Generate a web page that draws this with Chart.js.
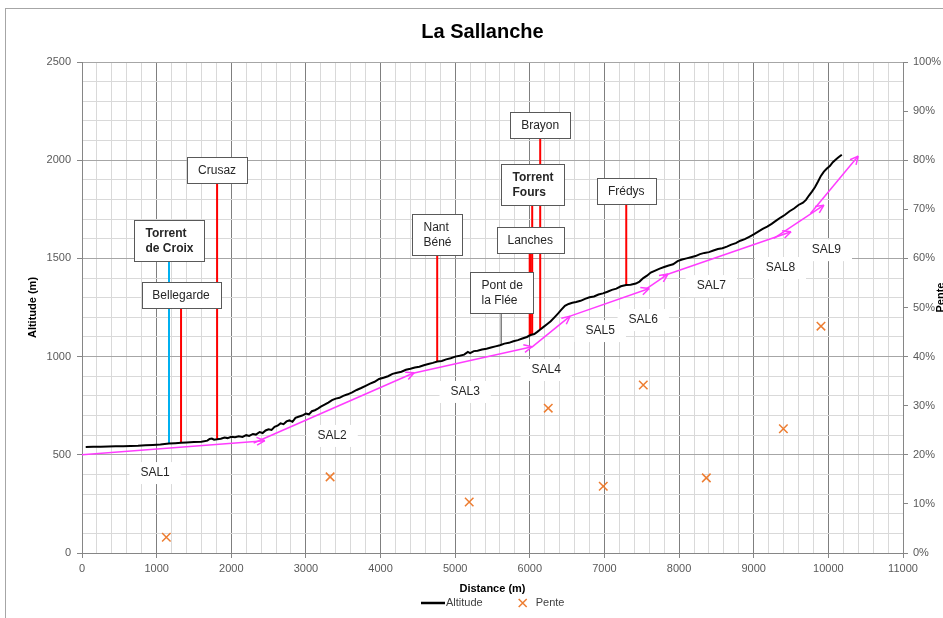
<!DOCTYPE html>
<html>
<head>
<meta charset="utf-8">
<title>La Sallanche</title>
<script src="https://cdn.jsdelivr.net/npm/chart.js@4.4.1/dist/chart.umd.min.js"></script>
<style>
  html, body { margin: 0; padding: 0; background: #fff; }
  .chart-wrapper { position: relative; width: 943px; height: 618px; }
</style>
</head>
<body>
<div class="chart-wrapper"><canvas id="profileChart"></canvas></div>
<script>
const FONT = "'Liberation Sans', Arial, sans-serif";

// longitudinal profile (distance m, altitude m)
const profileDistance = [
  50, 150, 250, 350, 450, 550, 650, 750, 850, 950, 1050, 1166, 1250, 1327, 1400, 1500, 1600, 1680, 1710, 1740,
  1770, 1810, 1860, 1910, 1950, 2000, 2050, 2100, 2150, 2200, 2240, 2290, 2330, 2380, 2420, 2460, 2500, 2540, 2580, 2620,
  2660, 2700, 2740, 2780, 2820, 2860, 2900, 2950, 3000, 3040, 3080, 3120, 3160, 3200, 3250, 3300, 3350, 3400, 3450, 3500,
  3560, 3620, 3680, 3740, 3800, 3860, 3920, 3980, 4040, 4100, 4160, 4220, 4280, 4340, 4400, 4460, 4520, 4580, 4640, 4700,
  4760, 4820, 4880, 4940, 5000, 5060, 5120, 5170, 5200, 5250, 5300, 5360, 5420, 5480, 5540, 5600, 5660, 5720, 5780, 5840,
  5900, 5960, 6010, 6060, 6100, 6140, 6180, 6230, 6280, 6330, 6380, 6420, 6470, 6520, 6570, 6620, 6680, 6740, 6800, 6860,
  6920, 6980, 7040, 7100, 7160, 7220, 7290, 7350, 7420, 7470, 7520, 7570, 7620, 7680, 7740, 7800, 7860, 7920, 7980, 8040,
  8100, 8160, 8220, 8280, 8340, 8400, 8460, 8520, 8580, 8640, 8700, 8760, 8820, 8880, 8940, 9000, 9060, 9120, 9180, 9240,
  9300, 9360, 9420, 9480, 9540, 9600, 9660, 9700, 9740, 9780, 9820, 9860, 9900, 9940, 9980, 10020, 10060, 10100, 10140, 10180
];
const profileAltitude = [
  540, 541, 541, 542, 543, 544, 545, 546, 548, 550, 552, 557, 559, 561, 563, 565, 567, 572, 581, 583,
  577, 579, 582, 588, 585, 592, 589, 594, 591, 600, 596, 606, 603, 616, 611, 624, 630, 627, 642, 648,
  660, 656, 670, 675, 668, 688, 694, 700, 710, 706, 722, 727, 735, 745, 755, 766, 778, 786, 790, 800,
  808, 818, 830, 840, 851, 862, 872, 886, 892, 900, 912, 918, 923, 933, 938, 944, 948, 956, 962, 968,
  975, 978, 986, 992, 1000, 1004, 1010, 1024, 1018, 1028, 1030, 1036, 1040, 1046, 1052, 1058, 1066, 1070, 1078, 1084,
  1092, 1100, 1110, 1115, 1126, 1138, 1150, 1165, 1180, 1200, 1220, 1238, 1258, 1268, 1274, 1278, 1284, 1294, 1302, 1306,
  1316, 1322, 1330, 1340, 1346, 1358, 1364, 1366, 1372, 1382, 1400, 1412, 1428, 1438, 1448, 1456, 1464, 1470, 1486, 1494,
  1500, 1506, 1512, 1522, 1528, 1532, 1540, 1548, 1552, 1560, 1570, 1578, 1590, 1598, 1610, 1622, 1636, 1650, 1662, 1676,
  1692, 1708, 1722, 1740, 1754, 1772, 1784, 1798, 1820, 1840, 1862, 1890, 1920, 1942, 1958, 1970, 1990, 2004, 2016, 2028
];

// slope per section (%)
const penteDistance = [1130, 3324, 5188, 6247, 6984, 7520, 8365, 9397, 9901];
const penteValue = [3.2, 15.5, 10.4, 29.5, 13.6, 34.2, 15.3, 25.3, 46.2];

// fitted sections SAL1..SAL9
const sectionNames = ['SAL1', 'SAL2', 'SAL3', 'SAL4', 'SAL5', 'SAL6', 'SAL7', 'SAL8', 'SAL9'];
const sectionStartX = [0, 2300, 4420, 6028, 6540, 7560, 7780, 9270, 9760];
const sectionStartY = [500, 560, 914, 1048, 1206, 1345, 1410, 1602, 1729];
const sectionEndX = [2450, 4450, 6030, 6540, 7600, 7850, 9500, 9940, 10400];
const sectionEndY = [572, 918, 1050, 1206, 1347, 1420, 1636, 1771, 2021];
const sectionLabelX = [979, 3351, 5134, 6220, 6944, 7520, 8432, 9357, 9973];
const sectionLabelY = [407, 596, 820, 932, 1130, 1186, 1359, 1451, 1542];

// tributaries and points of interest
const markerNames = ['Torrent de Croix', 'Bellegarde', 'Crusaz', 'Nant Béné', 'Pont de la Flée', 'Lanches', 'Torrent Fours', 'Brayon', 'Frédys'];
const markerDistance = [1166, 1327, 1810, 4759, 5617, 6005, 6032, 6139, 7292];
const markerFoot = [557, 561, 579, 975, 1062, 1108, 1110, 1136, 1364];
const markerTop = [1487, 1247, 1883, 1517, 1222, 1527, 1771, 2112, 1777];

const markerStyle = {
  'Torrent de Croix': { color: '#00b0f0', width: 2, bold: true, lines: ['Torrent', 'de Croix'] },
  'Bellegarde': { color: '#ff0000', width: 2, lines: ['Bellegarde'] },
  'Crusaz': { color: '#ff0000', width: 2, lines: ['Crusaz'] },
  'Nant Béné': { color: '#ff0000', width: 2, lines: ['Nant', 'Béné'] },
  'Pont de la Flée': { color: '#7f7f7f', width: 1.5, lines: ['Pont de', 'la Flée'] },
  'Lanches': { color: '#ff0000', width: 3, lines: ['Lanches'] },
  'Torrent Fours': { color: '#ff0000', width: 2, bold: true, lines: ['Torrent', 'Fours'] },
  'Brayon': { color: '#ff0000', width: 2, lines: ['Brayon'] },
  'Frédys': { color: '#ff0000', width: 2, lines: ['Frédys'] },
};

const PINK = '#ff3cff';
const ORANGE = '#ed7d31';

function buildDatasets() {
  const datasets = [
    {
      label: 'Altitude',
      kind: 'profile',
      data: profileDistance.map((d, i) => ({ x: d, y: profileAltitude[i] })),
      showLine: true,
      borderColor: '#000',
      borderWidth: 2,
      pointRadius: 0,
      yAxisID: 'y',
    },
    {
      label: 'Pente',
      kind: 'pente',
      data: penteDistance.map((d, i) => ({ x: d, y: penteValue[i] })),
      showLine: false,
      pointStyle: 'crossRot',
      pointRadius: 6,
      borderColor: ORANGE,
      backgroundColor: ORANGE,
      borderWidth: 1.5,
      yAxisID: 'y2',
    },
  ];

  sectionNames.forEach((name, i) => {
    datasets.push({
      label: name,
      kind: 'section',
      data: [
        { x: sectionStartX[i], y: sectionStartY[i] },
        { x: sectionEndX[i], y: sectionEndY[i] },
      ],
      showLine: true,
      borderColor: PINK,
      borderWidth: 1.5,
      pointRadius: 0,
      yAxisID: 'y',
    });
  });

  markerNames.forEach((name, i) => {
    const st = markerStyle[name];
    datasets.push({
      label: name,
      kind: 'marker',
      data: [
        { x: markerDistance[i], y: markerFoot[i] },
        { x: markerDistance[i], y: markerTop[i] },
      ],
      showLine: true,
      borderColor: st.color,
      borderWidth: st.width,
      pointRadius: 0,
      yAxisID: 'y',
      clip: false,
    });
  });

  return datasets;
}

const framePlugin = {
  id: 'frame',
  beforeDraw(chart) {
    const { ctx, width, height } = chart;
    ctx.save();
    ctx.fillStyle = '#fff';
    ctx.fillRect(0, 0, width, height);
    ctx.strokeStyle = '#a6a6a6';
    ctx.lineWidth = 1;
    ctx.strokeRect(5.5, 8.5, width + 20, height + 20);
    ctx.restore();
  },
};

const sectionLabelPlugin = {
  id: 'sectionLabels',
  beforeDatasetsDraw(chart) {
    const { ctx, scales: { x, y } } = chart;
    ctx.save();
    ctx.font = `12px ${FONT}`;
    ctx.textAlign = 'center';
    ctx.textBaseline = 'middle';
    sectionNames.forEach((name, i) => {
      const px = x.getPixelForValue(sectionLabelX[i]);
      const py = y.getPixelForValue(sectionLabelY[i]);
      const w = ctx.measureText(name).width + 22;
      ctx.fillStyle = '#fff';
      ctx.fillRect(px - w / 2, py - 11, w, 22);
      ctx.fillStyle = '#262626';
      ctx.fillText(name, px, py);
    });
    ctx.restore();
  },
};

const overlayPlugin = {
  id: 'overlay',
  afterDatasetsDraw(chart) {
    const { ctx } = chart;
    ctx.save();

    // arrow heads at the end of every section
    chart.data.datasets.forEach((ds, i) => {
      if (ds.kind !== 'section') return;
      const [a, b] = chart.getDatasetMeta(i).data;
      const ang = Math.atan2(b.y - a.y, b.x - a.x);
      ctx.strokeStyle = PINK;
      ctx.lineWidth = 1.5;
      ctx.beginPath();
      [0.45, -0.45].forEach(off => {
        ctx.moveTo(b.x, b.y);
        ctx.lineTo(b.x - 9 * Math.cos(ang + off), b.y - 9 * Math.sin(ang + off));
      });
      ctx.stroke();
    });

    // callout boxes at the top of each marker line
    chart.data.datasets.forEach((ds, i) => {
      if (ds.kind !== 'marker') return;
      const st = markerStyle[ds.label];
      const top = chart.getDatasetMeta(i).data[1];
      ctx.font = `${st.bold ? 'bold ' : ''}12px ${FONT}`;
      const tw = Math.max(...st.lines.map(l => ctx.measureText(l).width));
      const w = Math.round(tw + 22);
      const h = st.lines.length * 15 + 11;
      const left = Math.round(top.x - w / 2) + 0.5;
      const boxTop = Math.round(top.y - h) + 0.5;
      ctx.fillStyle = '#fff';
      ctx.fillRect(left, boxTop, w, h);
      ctx.strokeStyle = '#595959';
      ctx.lineWidth = 1;
      ctx.strokeRect(left, boxTop, w, h);
      ctx.fillStyle = '#262626';
      ctx.textAlign = st.lines.length > 1 ? 'left' : 'center';
      ctx.textBaseline = 'middle';
      st.lines.forEach((l, k) => {
        const ty = boxTop + 6 + 7.5 + k * 15;
        if (st.lines.length > 1) ctx.fillText(l, left + 11, ty);
        else ctx.fillText(l, top.x, ty);
      });
    });

    ctx.restore();
  },
  afterDraw(chart) {
    const { ctx, chartArea } = chart;
    ctx.save();

    // secondary axis title, partly cut off by the frame edge
    ctx.font = `bold 11px ${FONT}`;
    ctx.fillStyle = '#000';
    ctx.translate(935, (chartArea.top + chartArea.bottom) / 2 - 10);
    ctx.rotate(-Math.PI / 2);
    ctx.textAlign = 'center';
    ctx.textBaseline = 'top';
    ctx.fillText('Pente', 0, 0);
    ctx.restore();

    // legend
    ctx.save();
    ctx.font = `11px ${FONT}`;
    ctx.textBaseline = 'middle';
    ctx.textAlign = 'left';
    const ly = 603;
    const wAlt = ctx.measureText('Altitude').width;
    const wPen = ctx.measureText('Pente').width;
    const total = 24 + 1 + wAlt + 36 + 8 + 9 + wPen;
    let lx = Math.round((chartArea.left + chartArea.right) / 2 - total / 2);
    ctx.strokeStyle = '#000';
    ctx.lineWidth = 2.5;
    ctx.beginPath();
    ctx.moveTo(lx, ly);
    ctx.lineTo(lx + 24, ly);
    ctx.stroke();
    lx += 25;
    ctx.fillStyle = '#404040';
    ctx.fillText('Altitude', lx, ly);
    lx += wAlt + 36;
    ctx.strokeStyle = ORANGE;
    ctx.lineWidth = 1.5;
    ctx.beginPath();
    ctx.moveTo(lx, ly - 4); ctx.lineTo(lx + 8, ly + 4);
    ctx.moveTo(lx + 8, ly - 4); ctx.lineTo(lx, ly + 4);
    ctx.stroke();
    lx += 17;
    ctx.fillText('Pente', lx, ly);
    ctx.restore();
  },
};

const ctx = document.getElementById('profileChart').getContext('2d');

new Chart(ctx, {
  type: 'scatter',
  data: { datasets: buildDatasets() },
  options: {
    responsive: true,
    maintainAspectRatio: false,
    animation: false,
    font: { family: FONT },
    layout: { padding: { left: 22, right: 0, top: 0, bottom: 20 } },
    plugins: {
      legend: { display: false },
      tooltip: { enabled: false },
      title: {
        display: true,
        text: 'La Sallanche',
        color: '#000',
        font: { family: FONT, size: 20, weight: 'bold' },
        padding: { top: 20, bottom: 18 },
      },
    },
    scales: {
      x: {
        type: 'linear',
        min: 0,
        max: 11000,
        ticks: {
          stepSize: 200,
          autoSkip: false,
          maxRotation: 0,
          padding: 4,
          color: '#595959',
          font: { family: FONT, size: 11 },
          callback: v => (v % 1000 === 0 ? `${v}` : ''),
        },
        grid: {
          color: c => (c.tick && c.tick.value % 1000 === 0 ? '#7f7f7f' : '#d9d9d9'),
          tickColor: c => (c.tick && c.tick.value % 1000 === 0 ? '#868686' : 'rgba(0,0,0,0)'),
          tickLength: 5,
        },
        border: { color: '#868686' },
        title: {
          display: true,
          text: 'Distance (m)',
          color: '#000',
          font: { family: FONT, size: 11, weight: 'bold' },
          padding: { top: 0, bottom: 2 },
        },
        afterFit: s => { s.height = 45; },
      },
      y: {
        type: 'linear',
        position: 'left',
        min: 0,
        max: 2500,
        ticks: {
          stepSize: 100,
          autoSkip: false,
          padding: 6,
          color: '#595959',
          font: { family: FONT, size: 11 },
          callback: v => (v % 500 === 0 ? `${v}` : ''),
        },
        grid: {
          color: c => (c.tick && c.tick.value % 500 === 0 ? '#a6a6a6' : '#d9d9d9'),
          tickColor: c => (c.tick && c.tick.value % 500 === 0 ? '#868686' : 'rgba(0,0,0,0)'),
          tickLength: 5,
        },
        border: { color: '#868686' },
        title: {
          display: true,
          text: 'Altitude (m)',
          color: '#000',
          font: { family: FONT, size: 11, weight: 'bold' },
          padding: { top: 4, bottom: 0 },
        },
        afterFit: s => { s.width = 60; },
      },
      y2: {
        type: 'linear',
        position: 'right',
        min: 0,
        max: 100,
        ticks: {
          stepSize: 10,
          padding: 5,
          color: '#595959',
          font: { family: FONT, size: 11 },
          callback: v => `${v}%`,
        },
        grid: { drawOnChartArea: false, tickLength: 5, tickColor: '#868686' },
        border: { color: '#868686' },
        afterFit: s => { s.width = 40; },
      },
    },
  },
  plugins: [framePlugin, sectionLabelPlugin, overlayPlugin],
});
</script>
</body>
</html>
